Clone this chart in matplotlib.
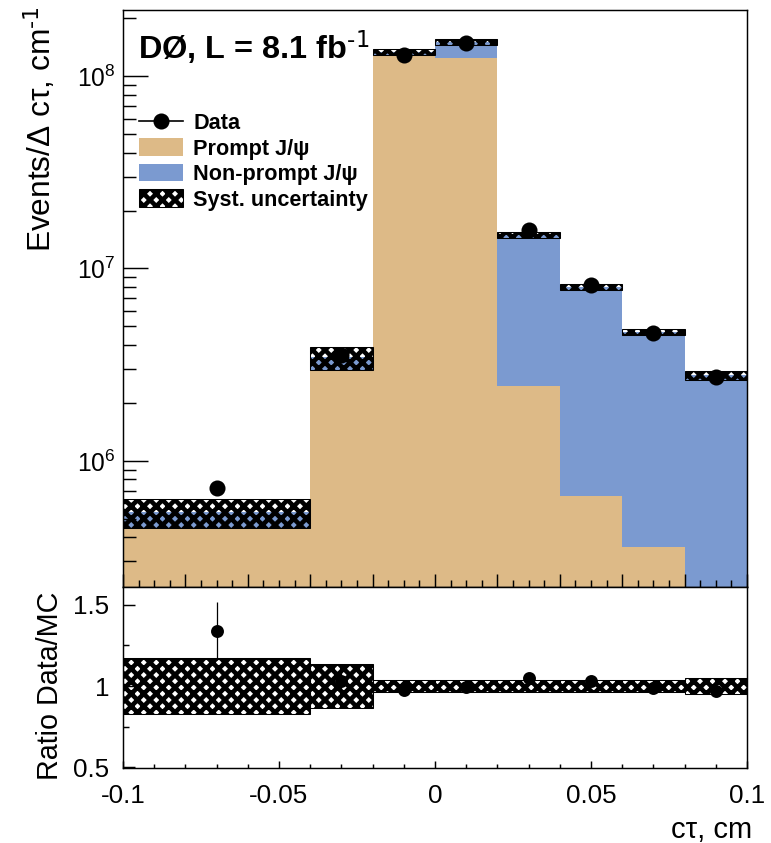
import numpy as np
import matplotlib
matplotlib.use("Agg")
import matplotlib.pyplot as plt
from matplotlib.lines import Line2D
from matplotlib.patches import Patch
from matplotlib.ticker import MultipleLocator, LogLocator, NullFormatter, FixedLocator

# bin edges in c*tau (cm)
edges = [-0.1, -0.04, -0.02, 0.0, 0.02, 0.04, 0.06, 0.08, 0.1]

# stacked MC components, events / (delta c*tau)
prompt = [4.45e5, 2.98e6, 1.27e8, 1.25e8, 2.45e6, 6.6e5, 3.55e5, 1.5e5]
nonprompt = [0.95e5, 0.47e6, 0.6e7, 2.5e7, 1.255e7, 7.34e6, 4.345e6, 2.63e6]

# data points
data = [7.2e5, 3.55e6, 1.29e8, 1.48e8, 1.58e7, 8.25e6, 4.64e6, 2.74e6]

# relative systematic uncertainty per bin
syst = [0.175, 0.135, 0.035, 0.035, 0.035, 0.035, 0.035, 0.05]

# ratio panel
ratio = [1.34, 1.03, 0.975, 0.995, 1.05, 1.03, 0.99, 0.97]
ratio_err = [0.18, 0.09, 0.01, 0.01, 0.01, 0.01, 0.01, 0.01]

xtick_vals = [-0.1, -0.05, 0, 0.05, 0.1]
xtick_labels = ['-0.1', '-0.05', '0', '0.05', '0.1']
rtick_vals = [0.5, 1, 1.5]
rtick_labels = ['0.5', '1', '1.5']

tan = '#DDBA87'
blue = '#7B9AD0'
HATCH = 'xxxx'

plt.rcParams['font.family'] = ['Liberation Sans', 'DejaVu Sans']
plt.rcParams['mathtext.default'] = 'regular'
plt.rcParams['hatch.linewidth'] = 2.2
plt.rcParams['axes.linewidth'] = 0.7

DPI = 150
fig = plt.figure(figsize=(771 / DPI, 843 / DPI), dpi=DPI)
ax1 = fig.add_axes([0.1595, 0.30368, 0.8094, 0.68446])
ax2 = fig.add_axes([0.1595, 0.08897, 0.8094, 0.21471])

edges = np.array(edges)
left = edges[:-1]
width = np.diff(edges)
centers = left + width / 2
prompt = np.array(prompt)
nonprompt = np.array(nonprompt)
total = prompt + nonprompt
syst = np.array(syst)

# --- top panel ---
ax1.set_yscale('log')
ax1.bar(left, prompt, width=width, align='edge', color=tan, linewidth=0)
ax1.bar(left, nonprompt, width=width, bottom=prompt, align='edge', color=blue, linewidth=0)
ax1.bar(left, 2 * syst * total, width=width, bottom=total * (1 - syst), align='edge',
        facecolor='none', edgecolor='black', hatch=HATCH, linewidth=0.5)
ax1.plot(centers, data, 'o', color='black', markersize=6.7)

ax1.set_xlim(-0.1, 0.1)
ax1.set_ylim(10 ** 5.344, 10 ** 8.344)
ax1.xaxis.set_major_locator(MultipleLocator(0.02))
ax1.xaxis.set_minor_locator(MultipleLocator(0.005))
ax1.yaxis.set_major_locator(LogLocator(base=10))
ax1.yaxis.set_minor_locator(LogLocator(base=10, subs=np.arange(2, 10)))
ax1.yaxis.set_minor_formatter(NullFormatter())
ax1.tick_params(which='both', direction='in', top=False, right=False,
                labelbottom=False, width=0.7, labelsize=11.8, pad=3.5)
ax1.tick_params(axis='x', which='major', length=6.2)
ax1.tick_params(axis='x', which='minor', length=3.4)
ax1.tick_params(axis='y', which='major', length=12)
ax1.tick_params(axis='y', which='minor', length=6)

handles = [
    Line2D([], [], color='black', marker='o', markersize=6.7, linewidth=0.8),
    Patch(facecolor=tan, linewidth=0),
    Patch(facecolor=blue, linewidth=0),
    Patch(facecolor='white', edgecolor='black', hatch=HATCH, linewidth=0.5),
]
labels = ['Data', 'Prompt J/\u03c8', 'Non-prompt J/\u03c8', 'Syst. uncertainty']
fig.legend(handles, labels, loc='upper left', bbox_to_anchor=(139 / 771, 1 - 113 / 843),
           bbox_transform=fig.transFigure, frameon=False, borderpad=0, borderaxespad=0,
           handlelength=2.05, handleheight=0.85, handletextpad=0.45, labelspacing=0.2,
           prop={'weight': 'bold', 'size': 10.4})

fig.text(138 / 771, 1 - 48 / 843, 'D\u00d8, L = 8.1 fb$^{\\text{-1}}$', fontsize=15.6,
         fontweight='bold', va='center', ha='left')
fig.text(40 / 771, 1 - 252 / 843, 'Events/\u0394 c\u03c4, cm$^{\\text{-1}}$', fontsize=15.2,
         rotation=90, ha='center', va='bottom')

# --- ratio panel ---
ax2.bar(left, 2 * syst, width=width, bottom=1 - syst, align='edge',
        facecolor='none', edgecolor='black', hatch=HATCH, linewidth=0.5)
ax2.errorbar(centers, ratio, yerr=ratio_err, fmt='o', color='black', markersize=5.2,
             elinewidth=0.6, capsize=0)
ax2.set_xlim(-0.1, 0.1)
ax2.set_ylim(0.495, 1.61)
ax2.xaxis.set_major_locator(FixedLocator(xtick_vals))
ax2.set_xticklabels(xtick_labels)
ax2.xaxis.set_minor_locator(MultipleLocator(0.01))
ax2.yaxis.set_major_locator(FixedLocator(rtick_vals))
ax2.set_yticklabels(rtick_labels)
ax2.yaxis.set_minor_locator(MultipleLocator(0.25))
ax2.tick_params(which='both', direction='in', top=False, right=False,
                width=0.7, labelsize=12.5)
ax2.tick_params(axis='x', which='major', length=3.6, pad=7.5)
ax2.tick_params(axis='x', which='minor', length=1.8)
ax2.tick_params(axis='y', which='major', length=5.8, pad=6.5)
ax2.tick_params(axis='y', which='minor', length=2.9)

fig.text(50 / 771, 1 - 780 / 843, 'Ratio Data/MC', fontsize=13.8,
         rotation=90, ha='center', va='bottom')
fig.text(752 / 771, 1 - 830 / 843, 'c\u03c4, cm', fontsize=14, ha='right', va='center')

fig.savefig('out.png', dpi=DPI)
